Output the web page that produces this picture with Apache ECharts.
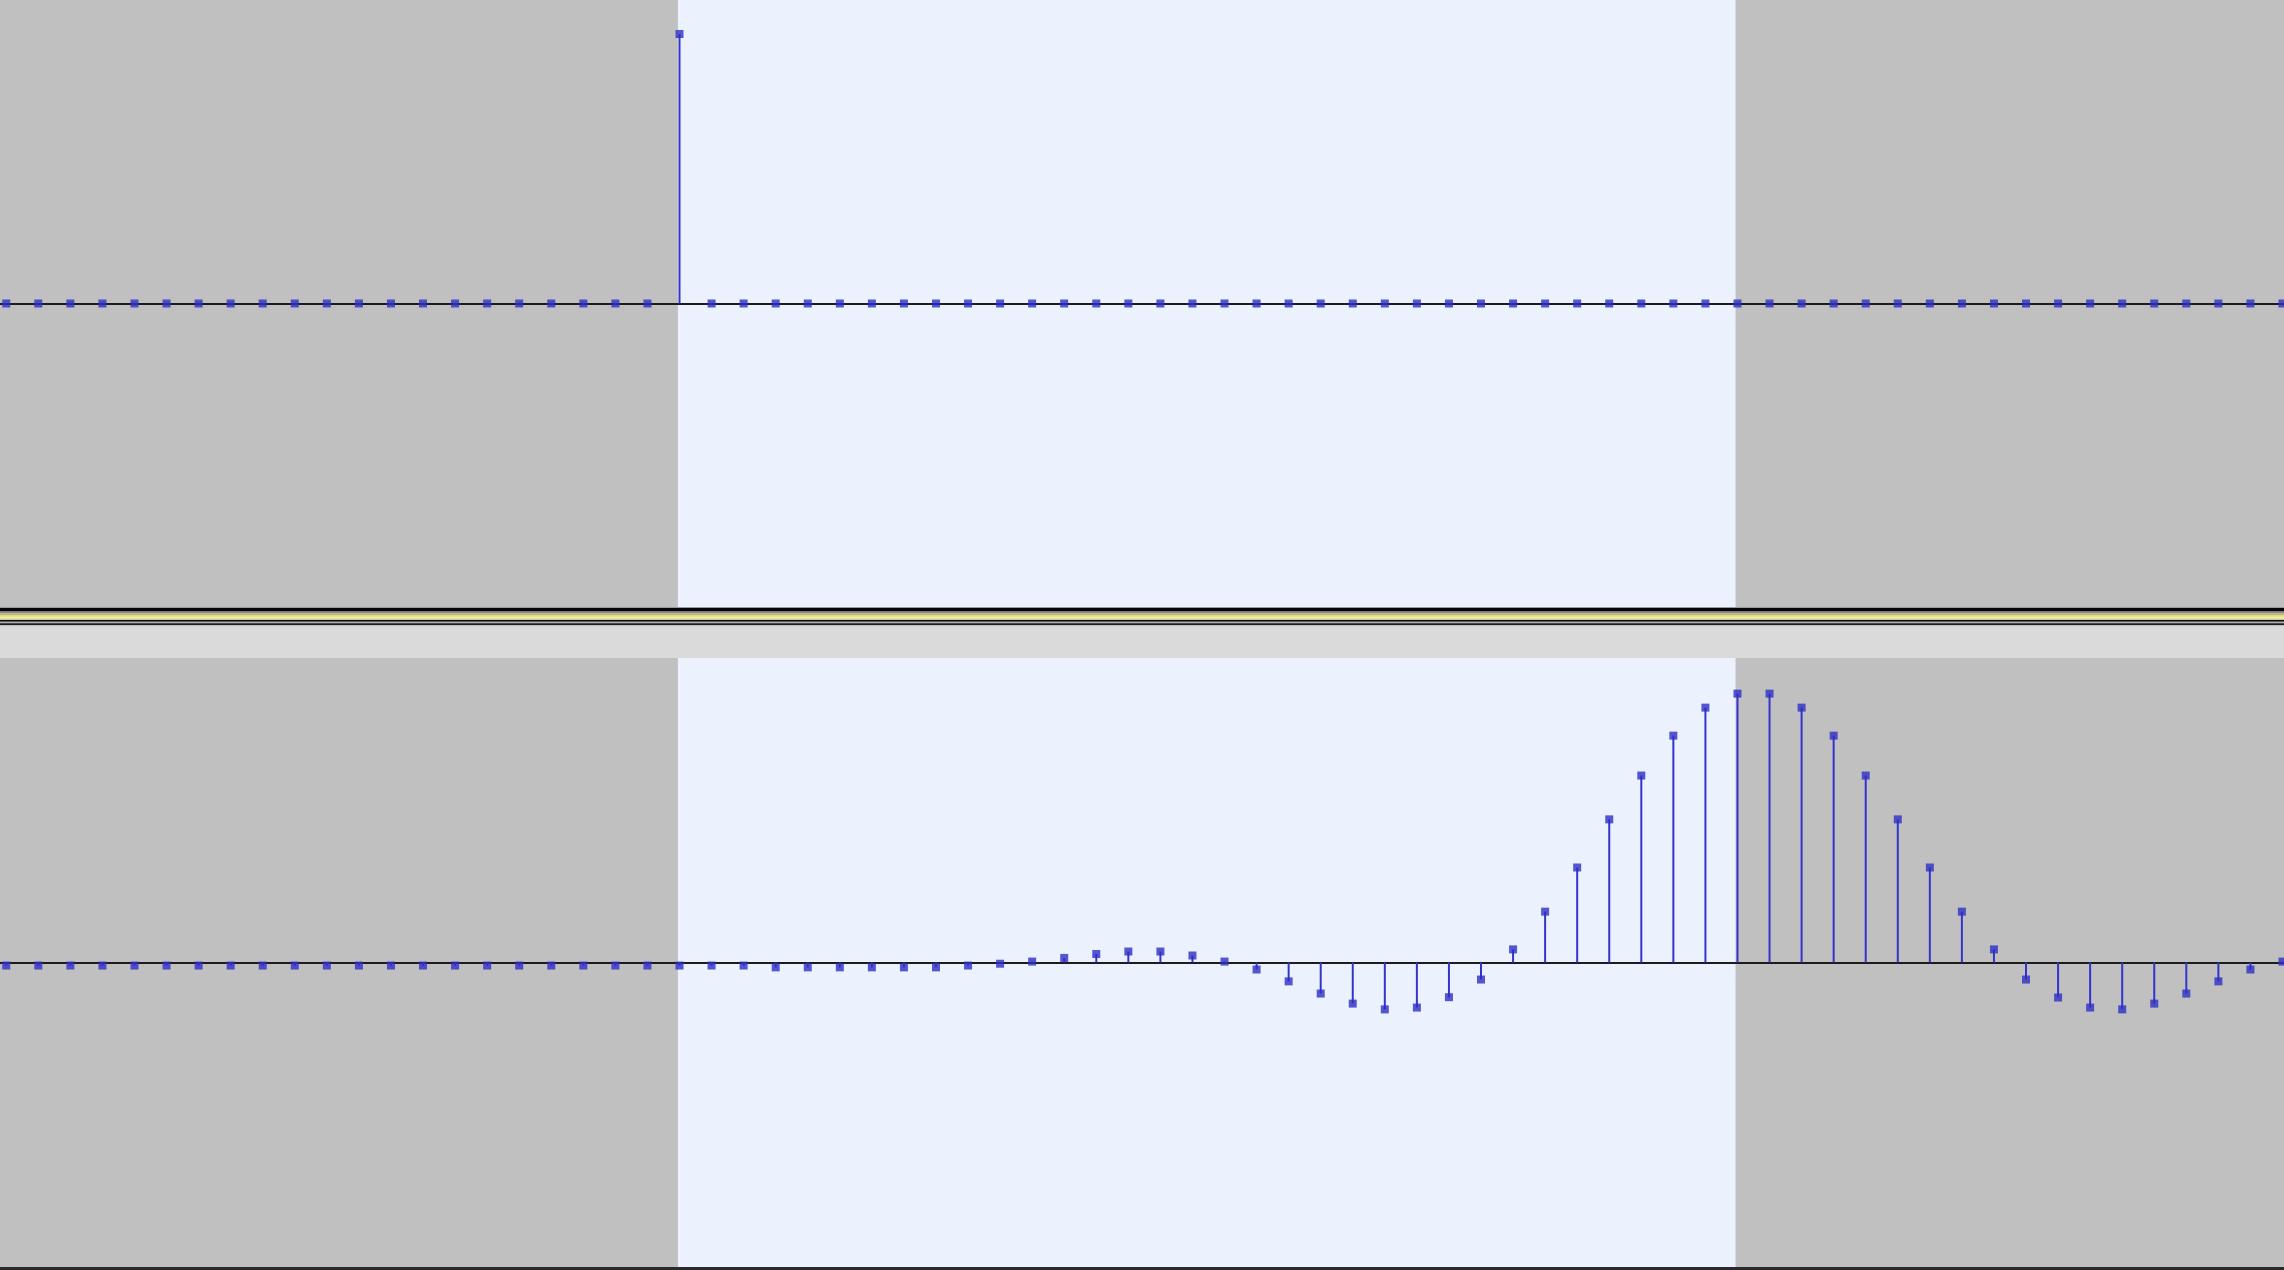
<!DOCTYPE html>
<html>
<head>
<meta charset="utf-8">
<script src="https://cdn.jsdelivr.net/npm/echarts@6/dist/echarts.min.js"></script>
<style>
  html, body { margin: 0; padding: 0; background: #dadada; }
  #chart { width: 2284px; height: 1270px; }
</style>
</head>
<body>
<div id="chart"></div>
<script>
// Sample numbers shown (relative to the impulse sample)
const firstSample = -21;
const lastSample = 50;
const sampleIndex = [];
for (let k = firstSample; k <= lastSample; k++) sampleIndex.push(k);

// Track 1: unit impulse
const topValues = [
  0, 0, 0, 0, 0, 0, 0, 0, 0, 0, 0, 0, 0, 0, 0, 0, 0, 0, 0, 0, 0,
  0.888,
  0, 0, 0, 0, 0, 0, 0, 0, 0, 0, 0, 0, 0, 0, 0, 0, 0, 0, 0, 0, 0, 0, 0, 0, 0, 0, 0, 0, 0, 0,
  0, 0, 0, 0, 0, 0, 0, 0, 0, 0, 0, 0, 0, 0, 0, 0, 0, 0, 0, 0
];

// Track 2: filtered response
const bottomValues = [
  -0.01, -0.01, -0.01, -0.01, -0.01, -0.01, -0.01, -0.01, -0.01, -0.01, -0.01, -0.01,
  -0.01, -0.01, -0.01, -0.01, -0.01, -0.01, -0.01, -0.01, -0.01, -0.01, -0.01, -0.01,
  -0.016, -0.016, -0.016, -0.016, -0.016, -0.016,
  -0.01, -0.004, 0.003, 0.015, 0.028, 0.036, 0.036, 0.023, 0.003,
  -0.023, -0.062, -0.102, -0.135, -0.154, -0.148, -0.114, -0.056,
  0.043, 0.167, 0.312, 0.470, 0.614, 0.745, 0.837, 0.883,
  0.883, 0.837, 0.745, 0.614, 0.470, 0.312, 0.167, 0.043,
  -0.056, -0.115, -0.148, -0.154, -0.135, -0.102, -0.062, -0.023, 0.003
];

// Selected region (in samples)
const selection = [[-0.05, 32.94]];

const xMin = -21.195, xMax = 50.047;
const SAMPLE_COLOR = '#2e2ec4';

function pairs(vals) { return sampleIndex.map((k, i) => [k, vals[i]]); }

function selRender(params, api) {
  const p0 = api.coord([api.value(0), 0]);
  const p1 = api.coord([api.value(1), 0]);
  const cs = params.coordSys;
  return { type: 'rect', shape: { x: p0[0], y: cs.y, width: p1[0] - p0[0], height: cs.height },
           style: { fill: '#ebf2fe' } };
}
function stemRender(params, api) {
  const x = api.value(0), v = api.value(1);
  const a = api.coord([x, 0]), b = api.coord([x, v]);
  return { type: 'line', shape: { x1: a[0], y1: a[1], x2: b[0], y2: b[1] },
           style: { stroke: '#3434cc', lineWidth: 2 } };
}

function xAxisCfg(idx) {
  return { type: 'value', gridIndex: idx, min: xMin, max: xMax, z: 3,
    axisLine: { show: true, onZero: true, lineStyle: { color: '#1c1c1c', width: 2 } },
    axisTick: { show: false }, axisLabel: { show: false }, splitLine: { show: false } };
}
function yAxisCfg(idx) {
  return { type: 'value', gridIndex: idx, min: -1, max: 1,
    axisLine: { show: false }, axisTick: { show: false }, axisLabel: { show: false }, splitLine: { show: false } };
}

const series = [];
[topValues, bottomValues].forEach((vals, i) => {
  series.push({ type: 'custom', xAxisIndex: i, yAxisIndex: i, z: 1, renderItem: selRender,
    data: selection, silent: true });
  series.push({ type: 'custom', xAxisIndex: i, yAxisIndex: i, z: 4, renderItem: stemRender,
    data: pairs(vals), silent: true });
  series.push({ type: 'scatter', xAxisIndex: i, yAxisIndex: i, z: 5, symbol: 'rect', symbolSize: 8,
    itemStyle: { color: SAMPLE_COLOR }, data: pairs(vals), silent: true });
});

const stripes = [
  [607, 1, '#9a9a9a'], [608, 3.5, '#050505'], [611.5, 1.8, '#8a8a8a'], [613.3, 1.7, '#b8b48a'],
  [615, 1.8, '#e2dc7c'], [616.8, 2, '#f6f282'], [618.8, 1.2, '#c8c6a8'], [620, 1.7, '#0a0a0a'],
  [621.7, 1.6, '#b0b0b0'], [623.3, 2, '#1c1c1c'], [625.3, 0.9, '#c4c4c4'], [626.2, 31.8, '#dadada'],
  [1267, 3, '#2a2a2a']
];

const option = {
  animation: false,
  backgroundColor: '#dadada',
  grid: [
    { left: 0, top: 0, width: 2284, height: 607, show: true, backgroundColor: '#c0c0c0', borderWidth: 0 },
    { left: 0, top: 658, width: 2284, height: 609, show: true, backgroundColor: '#c0c0c0', borderWidth: 0 }
  ],
  xAxis: [xAxisCfg(0), xAxisCfg(1)],
  yAxis: [yAxisCfg(0), yAxisCfg(1)],
  series: series,
  graphic: stripes.map(s => ({ type: 'rect', z: 10, silent: true,
    shape: { x: 0, y: s[0], width: 2284, height: s[1] }, style: { fill: s[2] } }))
};

const chart = echarts.init(document.getElementById('chart'), null, { renderer: 'canvas' });
chart.setOption(option);
</script>
</body>
</html>
